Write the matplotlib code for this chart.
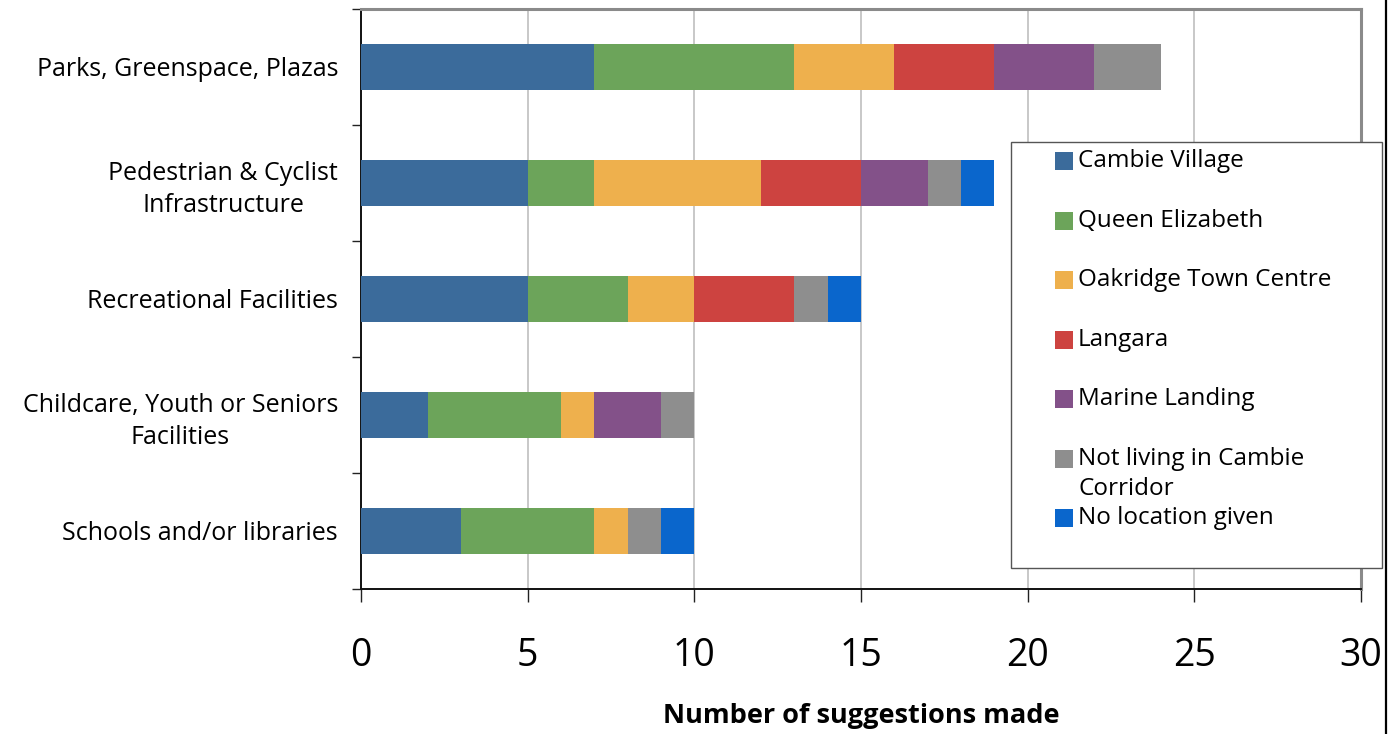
import matplotlib
matplotlib.use("Agg")
import matplotlib.pyplot as plt
from matplotlib.patches import Rectangle
from matplotlib.lines import Line2D
import numpy as np

plt.rcParams['font.family'] = ['Open Sans', 'DejaVu Sans']

categories = [
    "Parks, Greenspace, Plazas",
    "Pedestrian & Cyclist\nInfrastructure",
    "Recreational Facilities",
    "Childcare, Youth or Seniors\nFacilities",
    "Schools and/or libraries",
]

series_names = [
    "Cambie Village",
    "Queen Elizabeth",
    "Oakridge Town Centre",
    "Langara",
    "Marine Landing",
    "Not living in Cambie\nCorridor",
    "No location given",
]

cambie_village = [7, 5, 5, 2, 3]
queen_elizabeth = [6, 2, 3, 4, 4]
oakridge = [3, 5, 2, 1, 1]
langara = [3, 3, 3, 0, 0]
marine_landing = [3, 2, 0, 2, 0]
not_living = [2, 1, 1, 1, 1]
no_location = [0, 1, 1, 0, 1]

series_values = [cambie_village, queen_elizabeth, oakridge, langara,
                 marine_landing, not_living, no_location]
colors = ["#3B6B9B", "#6CA45A", "#EEB04D", "#CD4340", "#835189",
          "#8E8E8E", "#0A66CC"]

x_ticks = [0, 5, 10, 15, 20, 25, 30]

W, H = 1396, 734
fig = plt.figure(figsize=(W / 100, H / 100), dpi=100)
ax = fig.add_axes([361 / W, 1 - 589 / H, 1000 / W, 580 / H])

y = np.arange(len(categories))
left = np.zeros(len(categories))
for vals, col, name in zip(series_values, colors, series_names):
    ax.barh(y, vals, left=left, height=0.4, color=col, label=name,
            edgecolor='none', zorder=3)
    left += np.array(vals)

ax.set_xlim(0, 30)
ax.set_ylim(len(categories) - 0.5, -0.5)

# gridlines and frame
ax.set_xticks(x_ticks)
ax.set_xticklabels([str(t) for t in x_ticks], fontsize=27)
ax.xaxis.grid(True, color="#c4c4c4", linewidth=1.3, zorder=0)
ax.tick_params(axis='x', length=9.5, width=1.0, color='#222222', pad=25,
               direction='out')

ax.set_yticks(np.arange(-0.5, len(categories), 1.0))
ax.set_yticklabels([])
ax.tick_params(axis='y', which='major', length=6.5, width=1.0,
               color='#222222', direction='out')
ax.set_yticks(y, minor=True)
ax.set_yticklabels(categories, minor=True, fontsize=18,
                   multialignment='center', linespacing=1.35)
ax.tick_params(axis='y', which='minor', length=0, pad=16.5)

for side in ('left', 'bottom'):
    ax.spines[side].set_color('#111111')
    ax.spines[side].set_linewidth(1.4)
for side in ('top', 'right'):
    ax.spines[side].set_color('#8a8a8a')
    ax.spines[side].set_linewidth(2.2)

ax.set_xlabel("Number of suggestions made", fontsize=19.5, fontweight='bold',
              labelpad=20)

# legend box drawn in figure pixels
def fx(px):
    return px / W

def fy(py):
    return 1 - py / H

fig.patches.append(Rectangle((fx(1011), fy(568)), fx(371), 426 / H,
                             transform=fig.transFigure, facecolor='white',
                             edgecolor='#555555', linewidth=1.0, zorder=5))
entry_y = [161, 221, 280, 340, 399, 459, 518]
for name, col, ey in zip(series_names, colors, entry_y):
    fig.patches.append(Rectangle((fx(1055), fy(ey + 9)), fx(18), 18 / H,
                                 transform=fig.transFigure, facecolor=col,
                                 edgecolor='none', zorder=6))
    for i, line in enumerate(name.split('\n')):
        fig.text(fx(1078), fy(ey + 30 * i), line, fontsize=17.5,
                 va='center', ha='left', zorder=7)

# outer right border line
fig.add_artist(Line2D([fx(1386), fx(1386)], [0, 1], color='black',
                      linewidth=1.6, transform=fig.transFigure))

fig.savefig("out.png", dpi=100, facecolor='white')
